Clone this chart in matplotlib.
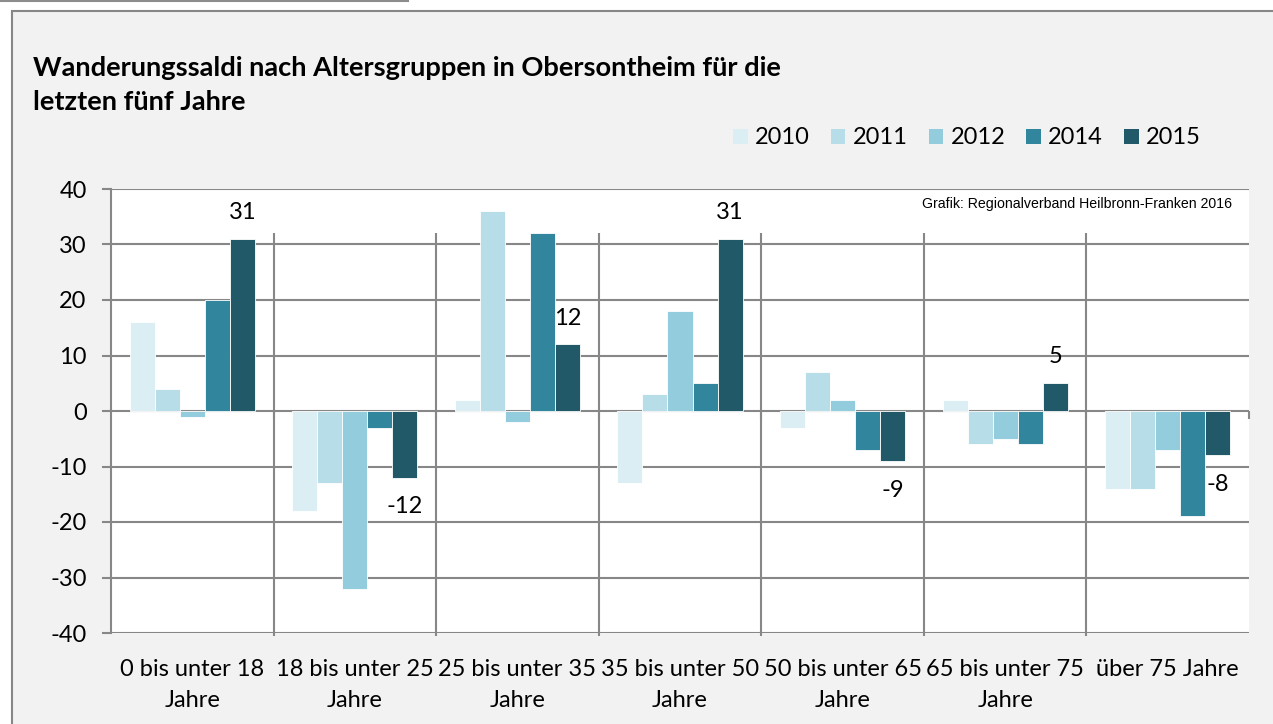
import numpy as np
import matplotlib.pyplot as plt
from matplotlib.patches import Rectangle, Patch
from matplotlib.lines import Line2D

plt.rcParams['font.family'] = ['Lato', 'DejaVu Sans']
plt.rcParams['axes.unicode_minus'] = False

groups = ['0 bis unter 18\nJahre', '18 bis unter 25\nJahre', '25 bis unter 35\nJahre',
          '35 bis unter 50\nJahre', '50 bis unter 65\nJahre', '65 bis unter 75\nJahre',
          'über 75 Jahre']
years = ['2010', '2011', '2012', '2014', '2015']
v2010 = [16, -18, 2, -13, -3, 2, -14]
v2011 = [4, -13, 36, 3, 7, -6, -14]
v2012 = [-1, -32, -2, 18, 2, -5, -7]
v2014 = [20, -3, 32, 5, -7, -6, -19]
v2015 = [31, -12, 12, 31, -9, 5, -8]
series = [v2010, v2011, v2012, v2014, v2015]
colors = ['#DBEEF4', '#B7DEE8', '#93CDDD', '#31859C', '#215968']

W, H = 1273, 724
grid_c = '#878787'

fig = plt.figure(figsize=(W / 100, H / 100), dpi=100)
fig.patch.set_facecolor('white')

# outer grey panel with border
fig.add_artist(Rectangle((12 / W, -0.05), 1.1, (H - 11) / H + 0.05, transform=fig.transFigure,
                         facecolor='#F2F2F2', edgecolor=grid_c, lw=1.5, zorder=0))
fig.add_artist(Line2D([0, 408 / W], [1 - 1 / H, 1 - 1 / H], transform=fig.transFigure,
                      color='#8C8C8C', lw=1.5))

ax = fig.add_axes([111 / W, 91 / H, 1138 / W, 444 / H])
ax.set_facecolor('white')
ax.set_xlim(-0.5, 6.5)
ax.set_ylim(-40, 40)
ax.set_axisbelow(True)

x = np.arange(len(groups))
w = 0.154
for k, (vals, c, yr) in enumerate(zip(series, colors, years)):
    ax.bar(x + (k - 2) * w, vals, width=w, color=c, edgecolor='white', linewidth=0.6,
           label=yr, zorder=3)

# data labels for 2015
for xi, v in zip(x, v2015):
    off = 19 if v > 0 else -21
    ax.annotate(str(v), (xi + 2 * w, v), xytext=(0, off), textcoords='offset points',
                ha='center', va='center', fontsize=17)

# gridlines / axes styling
ax.set_yticks(np.arange(-40, 41, 10))
ax.yaxis.grid(True, color=grid_c, lw=1.5)
ax.tick_params(axis='y', length=6.5, width=1.5, color=grid_c, pad=11, labelsize=17)
ax.set_xticks(x)
ax.set_xticklabels(groups, fontsize=17, linespacing=1.55)
ax.tick_params(axis='x', length=0, pad=19)
for s in ['top', 'right', 'bottom']:
    ax.spines[s].set_visible(False)
ax.spines['left'].set_color(grid_c)
ax.spines['left'].set_linewidth(1.5)

bounds = np.arange(0.5, 6.0, 1.0)
ax.vlines(bounds, -40.5, 32, color=grid_c, lw=1.5, clip_on=False, zorder=2)
ax.vlines(np.append(bounds, 6.5), -1.4, 0, color=grid_c, lw=1.5, clip_on=False, zorder=2)

# title
fig.text(33 / W, 1 - 85 / H, 'Wanderungssaldi nach Altersgruppen in Obersontheim für die\nletzten fünf Jahre',
         fontsize=19.6, fontweight='bold', ha='left', va='center', linespacing=1.45)

fig.text(1232 / W, 1 - 204 / H, 'Grafik: Regionalverband Heilbronn-Franken 2016',
         fontsize=10.2, family='Liberation Sans', ha='right', va='center')

handles = [Patch(facecolor=c, edgecolor='none') for c in colors]
fig.legend(handles, years, loc='center left', bbox_to_anchor=(733 / W, 1 - 138 / H), ncol=5,
           frameon=False, fontsize=17, handlelength=0.62, handleheight=0.62, handletextpad=0.3,
           columnspacing=0.9, borderpad=0, borderaxespad=0)

fig.savefig('out.png', dpi=100)
